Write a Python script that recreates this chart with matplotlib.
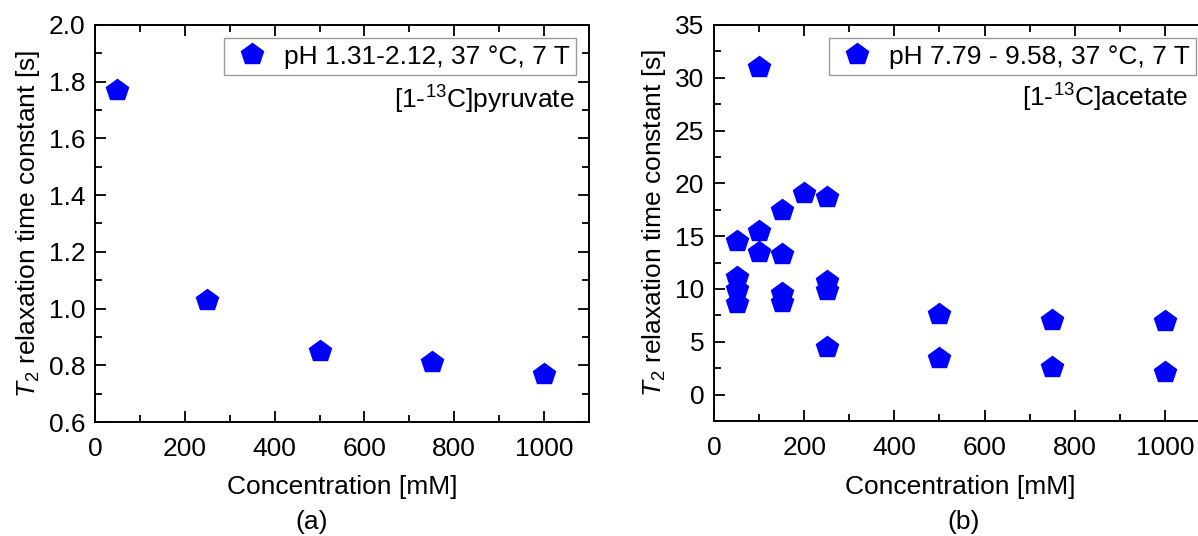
"""T2 relaxation time constant vs concentration for [1-13C]pyruvate and [1-13C]acetate."""
import matplotlib
matplotlib.use("Agg")
import matplotlib.pyplot as plt
from matplotlib.ticker import MultipleLocator, FormatStrFormatter

plt.rcParams["font.family"] = ["Liberation Sans", "DejaVu Sans"]
plt.rcParams["mathtext.fontset"] = "custom"
plt.rcParams["mathtext.rm"] = "Liberation Sans"
plt.rcParams["mathtext.it"] = "Liberation Sans:italic"

# (a) pyruvate
pyr_conc = [50, 250, 500, 750, 1000]
pyr_t2 = [1.77, 1.03, 0.85, 0.81, 0.77]

# (b) acetate
ace_conc = [50, 50, 50, 50, 100, 100, 100, 150, 150, 150, 150, 200,
            250, 250, 250, 250, 500, 500, 750, 750, 1000, 1000]
ace_t2 = [14.5, 11.15, 10.0, 8.7, 31.0, 15.5, 13.5, 17.5, 13.3, 9.6, 8.8, 19.05,
          18.75, 10.8, 9.9, 4.5, 7.65, 3.45, 7.05, 2.65, 6.95, 2.15]

W, H = 1198, 536
FS = 19
fig = plt.figure(figsize=(W / 100, H / 100), dpi=100)


def px_axes(left, top, right, bottom):
    return fig.add_axes([left / W, 1 - bottom / H, (right - left) / W, (bottom - top) / H])


def style(ax):
    ax.tick_params(which="both", direction="in", top=True, right=True,
                   labelsize=FS, width=1.3)
    ax.tick_params(axis="x", pad=11)
    ax.tick_params(axis="y", pad=7)
    ax.tick_params(which="major", length=8)
    ax.tick_params(which="minor", length=5)
    for s in ax.spines.values():
        s.set_linewidth(1.4)
    ax.set_xlim(0, 1100)
    ax.xaxis.set_major_locator(MultipleLocator(200))
    ax.xaxis.set_minor_locator(MultipleLocator(100))
    ax.set_ylabel(r"$\mathit{T}_2$ relaxation time constant [s]", fontsize=FS, labelpad=5)


def legend(ax, anchor):
    leg = ax.legend(loc="upper right", fontsize=FS, frameon=True, fancybox=False,
                    edgecolor="#999999", framealpha=1, borderpad=0.25,
                    handletextpad=0.4, handlelength=1.6, borderaxespad=0,
                    bbox_to_anchor=anchor)
    leg.get_frame().set_linewidth(1.0)
    return leg


mk = dict(marker="p", linestyle="none", markersize=16, color="#0000ff",
          markeredgecolor="#0000ff")

ax1 = px_axes(95, 25, 589, 422)
ax1.plot(pyr_conc, pyr_t2, label="pH 1.31-2.12, 37 °C, 7 T", **mk)
style(ax1)
ax1.set_ylim(0.6, 2.0)
ax1.yaxis.set_major_locator(MultipleLocator(0.2))
ax1.yaxis.set_minor_locator(MultipleLocator(0.1))
ax1.yaxis.set_major_formatter(FormatStrFormatter("%.1f"))
legend(ax1, (1.0 - 13 / 494, 1.0 - 13 / 397))
ax1.text(1.0 - 14 / 494, 1.0 - 75 / 397, r"[1-$^{13}$C]pyruvate", transform=ax1.transAxes,
         ha="right", va="center", fontsize=FS)
fig.text(342 / W, 1 - 487 / H, "Concentration [mM]", ha="center",
         va="center", fontsize=FS)
fig.text(312 / W, 1 - 522 / H, "(a)", ha="center", va="center", fontsize=FS)

# right panel is cropped at the figure edge in the original
ax2 = px_axes(714, 25, 1210, 421)
ax2.plot(ace_conc, ace_t2, label="pH 7.79 - 9.58, 37 °C, 7 T", **mk)
style(ax2)
ax2.set_ylim(-2.5, 35)
ax2.yaxis.set_major_locator(MultipleLocator(5))
ax2.yaxis.set_minor_locator(MultipleLocator(2.5))
legend(ax2, (1.0 - 14 / 496, 1.0 - 13 / 396))
ax2.text(1.0 - 22 / 496, 1.0 - 73 / 396, r"[1-$^{13}$C]acetate", transform=ax2.transAxes,
         ha="right", va="center", fontsize=FS)
fig.text(960 / W, 1 - 487 / H, "Concentration [mM]", ha="center",
         va="center", fontsize=FS)
fig.text(964 / W, 1 - 522 / H, "(b)", ha="center", va="center", fontsize=FS)

fig.savefig("out.png", dpi=100)
